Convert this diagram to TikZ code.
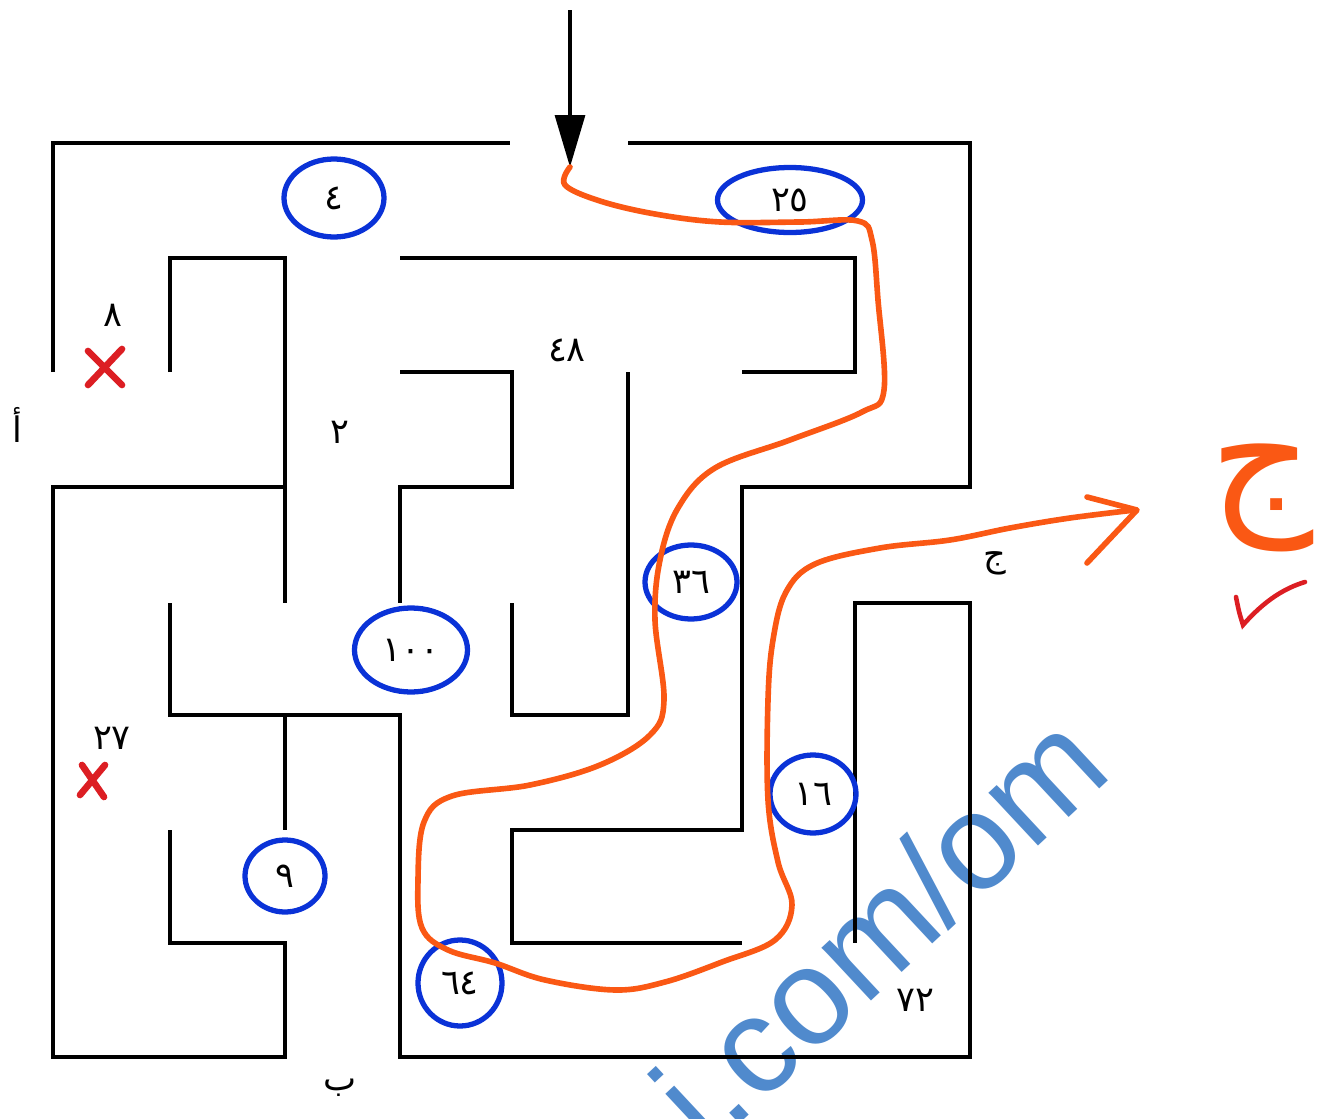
\documentclass[tikz,border=0pt]{standalone}
\usepackage{fontspec}
\setsansfont{Liberation Sans}
\newfontfamily\arabicfont[Script=Arabic]{DejaVu Sans}
\TeXXeTstate=1
\usepackage{tikz}
\usetikzlibrary{arrows.meta, shapes.geometric}
\usepackage{xcolor}
\definecolor{routeorange}{RGB}{250,88,20}
\definecolor{markblue}{RGB}{10,50,215}
\definecolor{markred}{RGB}{220,30,35}
\definecolor{wmblue}{RGB}{80,138,205}

\begin{document}
\begin{tikzpicture}[x=0.1mm, y=-0.1mm,
    wall/.style={line width=1.2pt},
    num/.style={font=\arabicfont\fontsize{10}{12}\selectfont, inner sep=1pt},
    circled/.style={num, ellipse, draw=markblue, line width=1.5pt},
    route/.style={draw=routeorange, line width=1.6pt, line cap=round, line join=round},
    cross/.style={draw=markred, line width=1.9pt, line cap=round},
    entry/.style={line width=0.9pt, -{Triangle[width=0.3cm, length=0.52cm]}},
    watermark/.style={text=wmblue, font=\sffamily\fontsize{39}{39}\selectfont}]
\useasboundingbox (0,0) rectangle (1320,1119);
\clip (0,0) rectangle (1320,1119);
\node[watermark, rotate=43] (site) at (878,928) {i.com/om};
\draw[wall] (53,372) |- (510,143);
\draw[wall] (628,143) -| (970,487) -| (742,830) -| (512,943) -- (742,943);
\draw[wall] (170,372) |- (285,258) -- (285,603);
\draw[wall] (285,487) -| (53,1057) -| (285,943) -| (170,830);
\draw[wall] (170,603) |- (400,715) -- (400,1057) -| (970,603) -| (855,943);
\draw[wall] (285,715) -- (285,830);
\draw[wall] (400,258) -| (855,372) -- (742,372);
\draw[wall] (400,372) -| (512,487) -| (400,603);
\draw[wall] (628,372) |- (512,715) -- (512,603);
\coordinate (arrowtop) at (570,10);
\coordinate (arrowtip) at (570,167);
\draw[entry] (arrowtop) -- (arrowtip);
\node[num] (alif) at (17,425) {\beginR أ\endR};
\node[num] (baa) at (340,1088) {\beginR ب\endR};
\node[num] (jeem) at (995,563) {\beginR ج\endR};
\node[num] (eight) at (113,315) {٨};
\node[num] (two) at (340,432) {٢};
\node[num] (fortyeight) at (567,350) {٤٨};
\node[num] (twentyseven) at (112,738) {٢٧};
\node[num] (seventytwo) at (915,1000) {٧٢};
\node[circled, minimum width=1cm, minimum height=0.78cm] (four) at (334,198) {٤};
\node[circled, minimum width=1.45cm, minimum height=0.65cm] (twentyfive) at (790,200) {٢٥};
\node[circled, minimum width=0.92cm, minimum height=0.74cm] (thirtysix) at (691,582) {٣٦};
\node[circled, minimum width=1.13cm, minimum height=0.84cm] (hundred) at (411,650) {١٠٠};
\node[circled, minimum width=0.8cm, minimum height=0.72cm] (nine) at (285,876) {٩};
\node[circled, minimum width=0.86cm, minimum height=0.78cm] (sixteen) at (813,794) {١٦};
\node[circled, minimum width=0.84cm, minimum height=0.86cm] (sixtyfour) at (460,983) {٦٤};
\draw[cross] (88,351) -- (122,385) (88,385) -- (122,349);
\draw[cross] (82,765) -- (104,797) (80,795) -- (105,765);
\draw[route] plot[smooth, tension=0.6] coordinates {(arrowtip) (565,185) (600,201) (655,214) (720,222) (800,222) (858,221) (872,240) (878,300) (884,390) (862,412) (790,440) (715,468) (678,508) (660,560) (655,620) (664,700) (650,735) (600,765) (530,785) (452,796) (424,822) (418,880) (422,928) (448,950) (495,963) (545,980) (615,990) (665,982) (722,962) (775,940) (792,905) (778,862) (768,800) (768,700) (773,640) (786,592) (815,564) (880,548) (950,540) (1010,528) (1070,518) (1135,510)};
\draw[route] (1087,497) -- (1137,510) -- (1087,563);
\node[text=routeorange, font=\arabicfont\fontsize{46}{48}\selectfont] (jeemhand) at (1262,498) {\beginR ج\endR};
\draw[markred, line width=1.3pt, line cap=round] (1236,597) .. controls (1239,612) .. (1243,625) .. controls (1265,600) and (1285,588) .. (1305,582);
\end{tikzpicture}
\end{document}
